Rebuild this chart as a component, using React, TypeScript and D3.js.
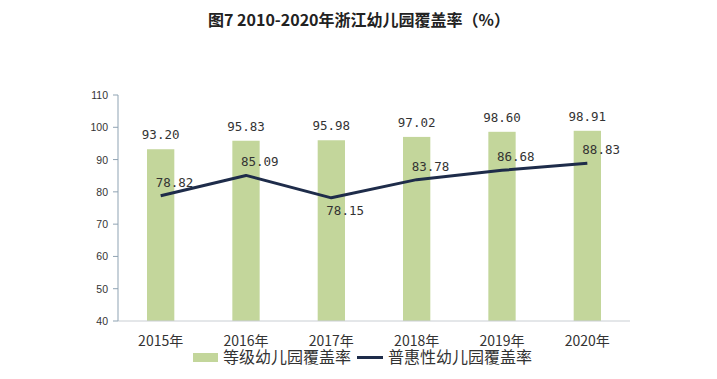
import React from "react";
import * as d3 from "d3";

const years = ["2015年", "2016年", "2017年", "2018年", "2019年", "2020年"];
const gradedRate = [93.2, 95.83, 95.98, 97.02, 98.6, 98.91];
const inclusiveRate = [78.82, 85.09, 78.15, 83.78, 86.68, 88.83];
const yTicks = [40, 50, 60, 70, 80, 90, 100, 110];
const seriesNames = ["等级幼儿园覆盖率", "普惠性幼儿园覆盖率"];
const title = "图7 2010-2020年浙江幼儿园覆盖率（%）";

const W = 717;
const H = 379;
const left = 118;
const right = 630;
const top = 95;
const bottom = 321;

export default function App() {
  const x = d3
    .scaleBand<string>()
    .domain(years)
    .range([left, right])
    .paddingInner(0.68)
    .paddingOuter(0.34);
  const y = d3.scaleLinear().domain([40, 110]).range([bottom, top]);
  const cx = (i: number) => (x(years[i]) as number) + x.bandwidth() / 2;
  const line = d3
    .line<number>()
    .x((_, i) => cx(i))
    .y((d) => y(d));
  const numFont = "'DejaVu Sans Mono', 'Liberation Mono', monospace";
  const cjk = "'Noto Sans CJK SC', sans-serif";

  return (
    <svg
      width={W}
      height={H}
      style={{ position: "absolute", left: 0, top: 0, background: "#fff" }}
    >
      <text
        x={359}
        y={26}
        textAnchor="middle"
        fontFamily={cjk}
        fontWeight="bold"
        fontSize={16}
        fill="#222"
      >
        {title}
      </text>

      {/* bars */}
      {gradedRate.map((v, i) => (
        <rect
          key={"b" + i}
          x={x(years[i])}
          y={y(v)}
          width={x.bandwidth()}
          height={bottom - y(v)}
          fill="#C3D69B"
        />
      ))}

      {/* axes */}
      <line x1={left} x2={right} y1={bottom} y2={bottom} stroke="#C9CED3" strokeWidth={1} />
      <line x1={left} x2={left} y1={top} y2={bottom} stroke="#8FA3B3" strokeWidth={1} />
      {yTicks.map((t) => (
        <g key={"t" + t}>
          <line x1={left - 5} x2={left} y1={y(t)} y2={y(t)} stroke="#8FA3B3" />
          <text
            x={108}
            y={y(t) + 4}
            textAnchor="end"
            fontFamily="'Liberation Sans', Arial, sans-serif"
            fontSize={10.5}
            fill="#333"
          >
            {t}
          </text>
        </g>
      ))}
      {years.map((yr, i) => (
        <text
          key={"x" + i}
          x={cx(i)}
          y={346}
          textAnchor="middle"
          fontFamily={cjk}
          fontSize={14}
          fill="#333"
        >
          {yr}
        </text>
      ))}

      {/* bar labels */}
      {gradedRate.map((v, i) => (
        <text
          key={"bl" + i}
          x={cx(i)}
          y={y(v) - 10}
          textAnchor="middle"
          fontFamily={numFont}
          fontSize={12.5}
          fill="#333"
        >
          {v.toFixed(2)}
        </text>
      ))}

      {/* line */}
      <path
        d={line(inclusiveRate) as string}
        fill="none"
        stroke="#1E2C4A"
        strokeWidth={3}
        strokeLinejoin="round"
      />
      {inclusiveRate.map((v, i) => {
        const below = i > 0 && i < inclusiveRate.length - 1 && v < inclusiveRate[i - 1] && v < inclusiveRate[i + 1];
        return (
          <text
            key={"ll" + i}
            x={cx(i) - 5}
            y={below ? y(v) + 17 : y(v) - 9}
            textAnchor="start"
            fontFamily={numFont}
            fontSize={12.5}
            fill="#333"
          >
            {v.toFixed(2)}
          </text>
        );
      })}

      {/* legend */}
      <rect x={193} y={353} width={25} height={9} fill="#C3D69B" />
      <text x={223} y={363} fontFamily={cjk} fontSize={16} fill="#333">
        {seriesNames[0]}
      </text>
      <line x1={357} x2={383} y1={357.5} y2={357.5} stroke="#1E2C4A" strokeWidth={3} />
      <text x={388} y={363} fontFamily={cjk} fontSize={16} fill="#333">
        {seriesNames[1]}
      </text>
    </svg>
  );
}
